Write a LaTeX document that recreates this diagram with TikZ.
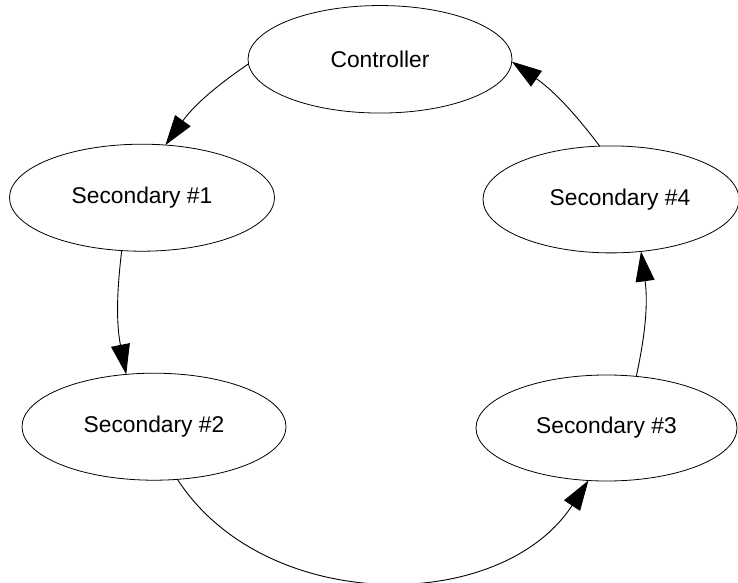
\documentclass[tikz,border=0pt]{standalone}
\usepackage{fontspec}
\setmainfont{Liberation Sans}
\usetikzlibrary{arrows.meta,shapes.geometric}
\tikzset{
  state/.style={draw, ellipse, line width=0.8pt, inner sep=0pt, outer sep=0pt,
    font=\fontsize{22.8}{27}\selectfont},
  edge/.style={line width=0.9pt, -{Triangle[length=30pt,width=19pt]}}
}
\begin{document}
\begin{tikzpicture}[x=1pt,y=1pt]
\useasboundingbox (0,0) rectangle (738,582);
\node[state, minimum width=264pt, minimum height=107.5pt] (ctrl) at (380,522.7) {Controller};
\node[state, minimum width=265pt, minimum height=107pt] (s1) at (142,384.3) {Secondary \#1};
\node[state, minimum width=264pt, minimum height=107pt] (s2) at (154,155.3) {Secondary \#2};
\node[state, minimum width=261pt, minimum height=106pt] (s3) at (606.5,154) {Secondary \#3};
\node[state, minimum width=256pt, minimum height=107pt, text width=0pt] (s4) at (611,382.6) {};
\node[font=\fontsize{22.8}{27}\selectfont, inner sep=0pt] (s4t) at (620,382.6) {Secondary \#4};
\draw[edge] (ctrl.182) to[bend right=10] (s1.66.4);
\draw[edge] (s1.249) to[bend right=9] (s2.118.4);
\draw[edge] (s2.294) to[bend right=57] (s3.251);
\draw[edge] (s3.60) to[bend right=10] (s4.300.5);
\draw[edge] (s4.102.7) to[bend right=9] (ctrl.359);
\end{tikzpicture}
\end{document}
